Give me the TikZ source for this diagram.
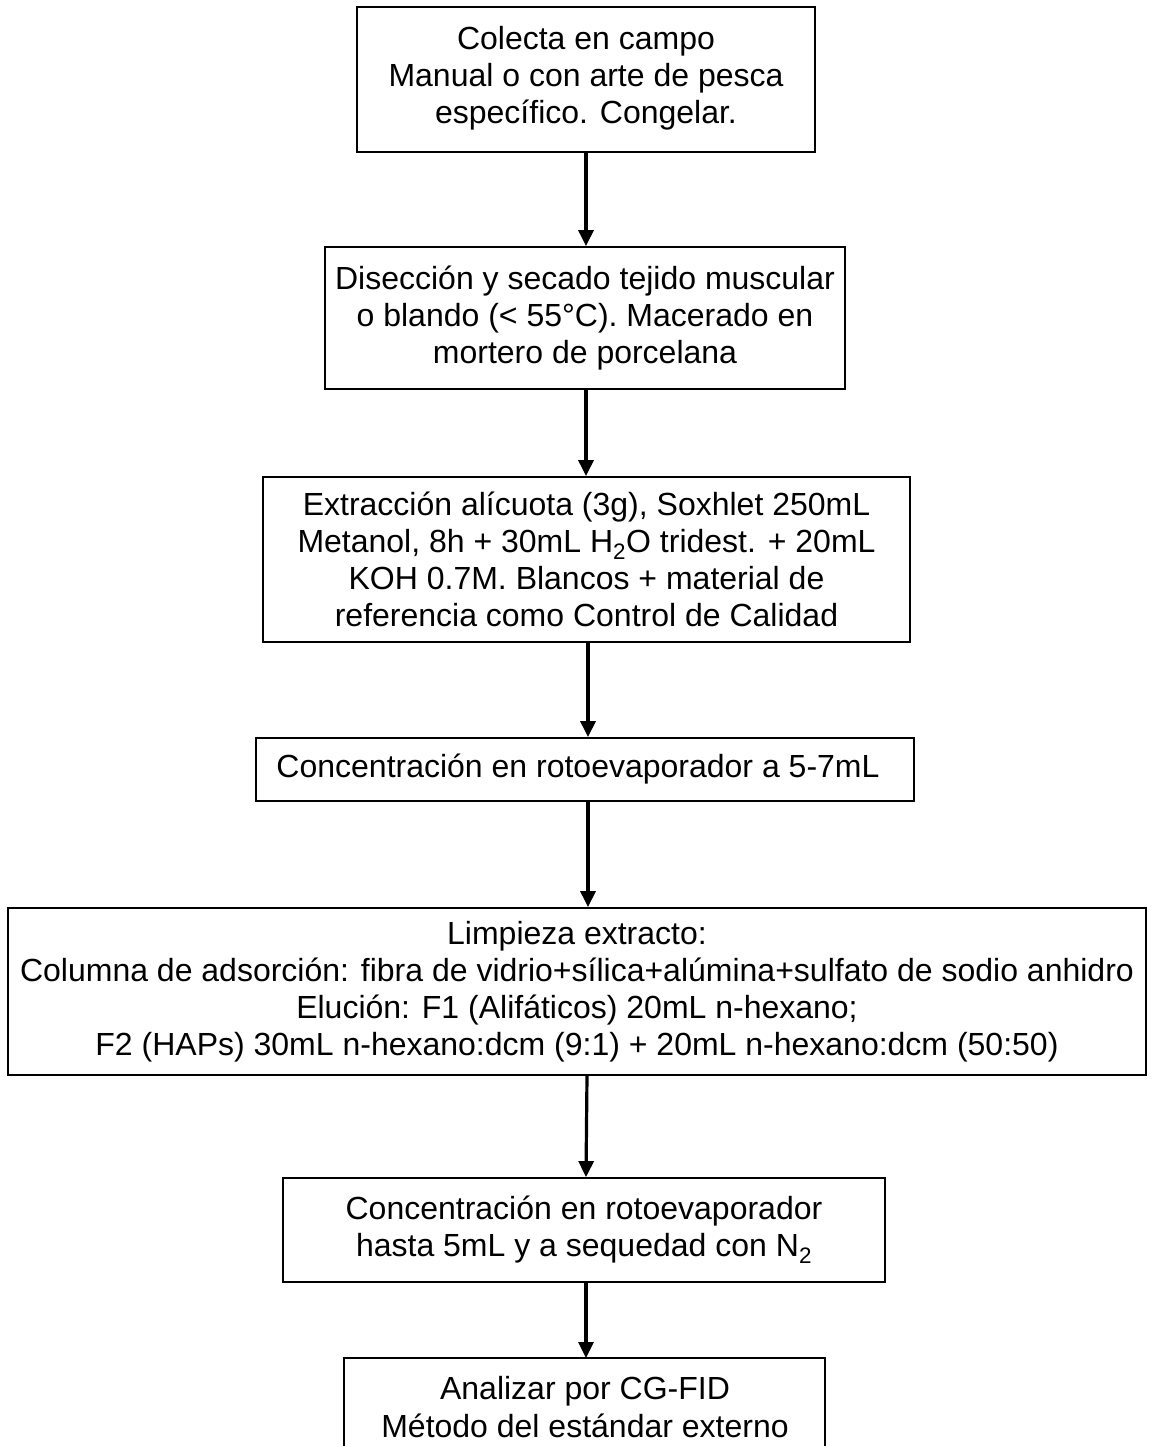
\documentclass[tikz,border=0pt]{standalone}
\usepackage{fontspec}
\setmainfont{Liberation Sans}
\usetikzlibrary{arrows.meta}
\tikzset{
  stepbox/.style={draw=black, line width=1.8pt, align=center, inner sep=0pt,
    font=\fontsize{32}{37}\selectfont},
  flow/.style={line width=3.2pt, -{Triangle[width=15pt,length=16pt]}},
  plain/.style={font=\fontsize{32}{38}\selectfont, align=center, inner sep=0pt}
}
\begin{document}
\begin{tikzpicture}[x=1pt,y=-1pt]
\useasboundingbox[fill=white] (0,0) rectangle (1153,1446);
\node[stepbox, minimum width=458pt, minimum height=145pt] (b1) at (586,79.5)
  {Colecta en campo\\Manual o con arte de pesca\\específico. Congelar.\\[-28pt]};
\node[stepbox, minimum width=520pt, minimum height=142pt] (b2) at (585,318)
  {Disección y secado tejido muscular\\o blando (< 55°C). Macerado en\\mortero de porcelana};
\node[stepbox, minimum width=647pt, minimum height=165pt] (b3) at (586.5,559.5)
  {Extracción alícuota (3g), Soxhlet 250mL\\Metanol, 8h + 30mL H\textsubscript{2}O tridest. + 20mL\\KOH 0.7M. Blancos + material de\\referencia como Control de Calidad};
\node[stepbox, minimum width=658pt, minimum height=63pt] (b4) at (585,769.5)
  {Concentración en rotoevaporador a 5-7mL\hspace*{14pt}};
\node[stepbox, minimum width=1138pt, minimum height=167pt] (b5) at (577,991.5)
  {Limpieza extracto:\\Columna de adsorción: fibra de vidrio+sílica+alúmina+sulfato de sodio anhidro\\Elución: F1 (Alifáticos) 20mL n-hexano;\\F2 (HAPs) 30mL n-hexano:dcm (9:1) + 20mL n-hexano:dcm (50:50)};
\node[stepbox, minimum width=602pt, minimum height=104pt] (b6) at (584,1230)
  {Concentración en rotoevaporador\\hasta 5mL y a sequedad con N\textsubscript{2}};
\coordinate (b7nw) at (344,1358);
\coordinate (b7ne) at (825,1358);
\coordinate (b7sw) at (344,1446);
\coordinate (b7se) at (825,1446);
\coordinate (b7n) at (586,1358);
\draw[line width=1.8pt] (b7sw) -- (b7nw) -- (b7ne) -- (b7se);
\node[plain] (b7) at (585,1407) {Analizar por CG-FID\\Método del estándar externo};
\draw[flow] (b1.south) -- (b1.south |- b2.north);
\draw[flow] (b2.south -| b1.south) -- (b1.south |- b3.north);
\draw[flow] (b3.south -| 588,0) -- (588,0 |- b4.north);
\draw[flow] (b4.south -| 588,0) -- (588,0 |- b5.north);
\draw[flow] (b5.south -| 587,0) -- (b6.north -| 586,0);
\draw[flow] (b6.south -| 586,0) -- (b7n);
\end{tikzpicture}
\end{document}
